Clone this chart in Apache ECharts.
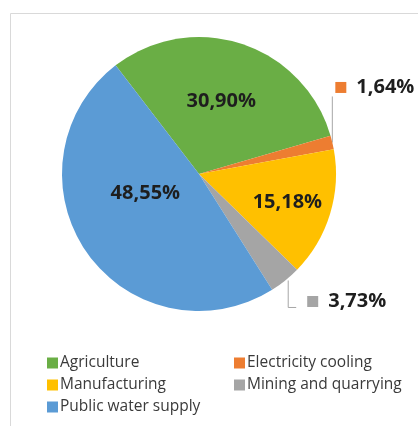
<!DOCTYPE html>
<html><head><meta charset="utf-8">
<script src="https://cdn.jsdelivr.net/npm/echarts@6/dist/echarts.min.js"></script>
<style>html,body{margin:0;padding:0;background:#fff}#c{width:418px;height:426px}</style>
</head><body><div id="c"></div>
<script>
const categories = ['Agriculture','Electricity cooling','Manufacturing','Mining and quarrying','Public water supply'];
const values = [30.90, 1.64, 15.18, 3.73, 48.55];
const colors = ['#6AAE45','#ED7D31','#FFC000','#A5A5A5','#5B9BD5'];
const outsideLabels = ['Electricity cooling','Mining and quarrying'];

const fmt = v => v.toFixed(2).replace('.', ',') + '%';
const font = '"Open Sans", "Liberation Sans", sans-serif';

const data = categories.map((c, i) => {
  const outside = outsideLabels.includes(c);
  const d = { name: c, value: values[i], itemStyle: { color: colors[i] } };
  if (outside) {
    d.label = {
      position: 'outside',
      formatter: '{sq|}{v|' + fmt(values[i]) + '}',
      rich: {
        sq: { width: 11, height: 11, backgroundColor: colors[i] },
        v: { fontSize: 20, fontWeight: 'bold', color: '#1e1e1e', fontFamily: font, padding: [0, 0, 0, 10] }
      }
    };
    d.labelLine = { show: true, lineStyle: { color: '#a6a6a6', width: 1 } };
  } else {
    d.label = { position: 'inside' };
    d.labelLine = { show: false };
  }
  return d;
});

const chart = echarts.init(document.getElementById('c'), null, { renderer: 'canvas' });
chart.setOption({
  animation: false,
  graphic: [{ type: 'rect', shape: { x: 10.5, y: 13.5, width: 430, height: 430 }, style: { fill: 'none', stroke: '#d9d9d9', lineWidth: 1 }, z: -1 }],
  legend: [
    { orient: 'vertical', left: 42, top: 350, itemWidth: 11, itemHeight: 11, itemGap: 6, icon: 'rect',
      data: [categories[0], categories[2], categories[4]],
      textStyle: { fontSize: 15.5, color: '#3a3a3a', fontFamily: font, padding: [0, 0, 0, -3] } },
    { orient: 'vertical', left: 229, top: 350, itemWidth: 11, itemHeight: 11, itemGap: 6, icon: 'rect',
      data: [categories[1], categories[3]],
      textStyle: { fontSize: 15.5, color: '#3a3a3a', fontFamily: font, padding: [0, 0, 0, -3] } }
  ],
  series: [{
    type: 'pie',
    center: [199, 174],
    radius: 137,
    startAngle: 127.5,
    clockwise: true,
    avoidLabelOverlap: false,
    label: {
      formatter: p => fmt(p.value),
      fontSize: 20, fontWeight: 'bold', color: '#1e1e1e', fontFamily: font
    },
    labelLayout: function (params) {
      const i = params.dataIndex;
      const name = categories[i];
      const pts = params.labelLinePoints;
      if (name === 'Electricity cooling' && pts) {
        const p = pts[0];
        return { x: p[0] + 3, y: p[1] - 55, align: 'left', verticalAlign: 'middle',
          labelLinePoints: [[p[0], p[1]], [p[0], p[1] - 46], [p[0], p[1] - 46]] };
      }
      if (name === 'Mining and quarrying' && pts) {
        const p = pts[0];
        return { x: p[0] + 22, y: p[1] + 21, align: 'left', verticalAlign: 'middle',
          labelLinePoints: [[p[0] + 3, p[1]], [p[0] + 3, p[1] + 27], [p[0] + 11, p[1] + 27]] };
      }
      if (name === 'Agriculture') return { dx: 0, dy: -5 };
      if (name === 'Public water supply') return { dx: 5, dy: -22 };
      if (name === 'Manufacturing') return { dx: 20, dy: 7 };
      return {};
    },
    data: data
  }]
});
</script></body></html>
